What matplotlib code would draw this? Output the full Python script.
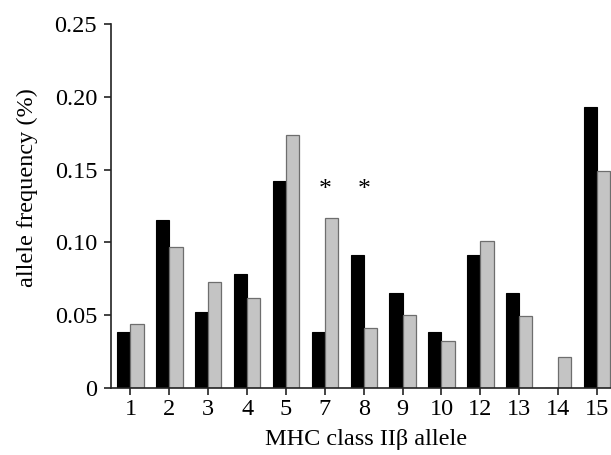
import numpy as np
import matplotlib.pyplot as plt

plt.rcParams['font.family'] = ['Liberation Serif', 'DejaVu Serif']

# alleles and frequencies (black / grey series)
alleles = ['1', '2', '3', '4', '5', '7', '8', '9', '10', '12', '13', '14', '15']
freq_black = [0.038, 0.115, 0.052, 0.078, 0.142, 0.038, 0.091, 0.065, 0.038, 0.091, 0.065, 0.0, 0.193]
freq_grey = [0.044, 0.097, 0.073, 0.062, 0.174, 0.117, 0.041, 0.050, 0.032, 0.101, 0.049, 0.021, 0.149]
signif = ['7', '8']

x = np.arange(len(alleles))
w = 0.34
fs = 17.5

fig = plt.figure(figsize=(6.11, 4.55), dpi=100)
ax = fig.add_axes([0.1817, 0.148, 0.8183, 0.799])

ax.bar(x - w / 2, freq_black, w, color='black', edgecolor='black', linewidth=0.8)
ax.bar(x + w / 2, freq_grey, w, color='#c4c4c4', edgecolor='#6e6e6e', linewidth=0.9)

for a in signif:
    i = alleles.index(a)
    ax.text(x[i], 0.136, '*', ha='center', va='center', fontsize=fs + 1)

ax.set_xlim(-0.5, 12.36)
ax.set_ylim(0, 0.25)
ax.set_xticks(x)
ax.set_xticklabels(alleles)
ax.set_yticks([0, 0.05, 0.10, 0.15, 0.20, 0.25])
ax.set_yticklabels(['0', '0.05', '0.10', '0.15', '0.20', '0.25'])

for s in ['top', 'right']:
    ax.spines[s].set_visible(False)
for s in ['left', 'bottom']:
    ax.spines[s].set_linewidth(1.2)
    ax.spines[s].set_color('#222222')

ax.tick_params(axis='both', direction='out', length=5, width=1.2, labelsize=fs, color='#222222')
ax.tick_params(axis='x', pad=3)
ax.tick_params(axis='y', pad=5)

ax.set_xlabel('MHC class II\u03b2 allele', fontsize=fs)
ax.set_ylabel('allele frequency (%)', fontsize=fs)
ax.xaxis.set_label_coords(0.51, -0.113)
ax.yaxis.set_label_coords(-0.146, 0.55)

fig.savefig('out.png', dpi=100)
